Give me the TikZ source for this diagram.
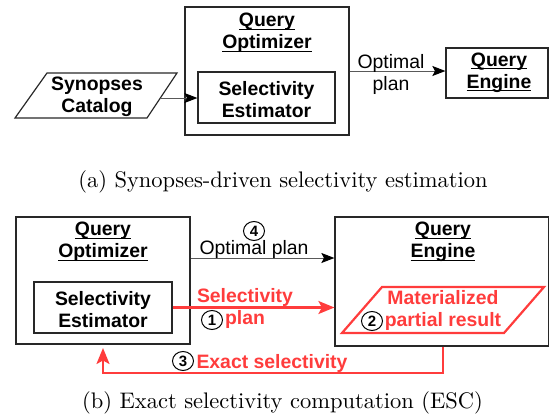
\documentclass[tikz,border=0pt]{standalone}
\usepackage{fontspec}
\newfontfamily\lsans{Liberation Sans}
\usetikzlibrary{arrows.meta,shapes.geometric}
\definecolor{myred}{RGB}{255,60,60}
\definecolor{boxgray}{RGB}{40,40,40}
\newcommand\ulin[1]{\setbox0\hbox{#1}\rlap{\rule[-3pt]{\wd0}{1.2pt}}\box0}
\begin{document}
\begin{tikzpicture}[x=1pt,y=-1pt,
  lab/.style={font=\lsans\fontsize{19.4}{22}\selectfont, align=center, inner sep=0pt},
  blab/.style={font=\lsans\bfseries\fontsize{19.4}{22}\selectfont, align=center, inner sep=0pt},
  rlab/.style={blab, text=myred},
  boxn/.style={draw=boxgray, line width=1.2pt, inner sep=0pt},
  arr/.style={draw=black!65, line width=1pt, -{Stealth[length=13pt,width=10pt,inset=2.5pt,color=black]}},
  rarr/.style={draw=myred, line width=2.2pt, -{Stealth[length=16pt,width=13pt,inset=3.5pt]}},
  rline/.style={draw=myred, line width=2.2pt},
  num/.style={ellipse, draw=black, line width=1pt, minimum width=21pt, minimum height=19pt, inner sep=0pt,
    font=\lsans\bfseries\fontsize{15}{15}\selectfont},
  captxt/.style={scale=2.25, inner sep=0pt}
]
\useasboundingbox (0,0) rectangle (549,415);

% ---------- (a) ----------
\node[boxn, minimum width=164pt, minimum height=128pt] (qo1) at (267,71) {};
\node[blab] (qo1t) at (267,33) {\ulin{Query}\\\ulin{Optimizer}};
\node[boxn, minimum width=137pt, minimum height=51pt] (se1) at (266.5,97.5) {};
\node[blab] (se1t) at (266.5,100) {Selectivity\\Estimator};

\draw[boxn] (15,118) -- (47,73) -- (177,73) -- (147,118) -- cycle;
\node[blab] (syn) at (97,97) {Synopses\\Catalog};
\coordinate (synr) at (160,98);
\draw[arr] (synr) -- (se1.west |- synr);

\node[boxn, minimum width=102pt, minimum height=50pt] (qe1) at (497,73) {};
\node[blab] (qe1t) at (499,72.5) {\ulin{Query}\\\ulin{Engine}};
\draw[arr] (qo1.east) -- (qe1.west |- qo1.east);
\node[lab] (opt1) at (391,74.5) {Optimal\\plan};

\node[captxt] (capa) at (283,182) {(a) Synopses-driven selectivity estimation};

% ---------- (b) ----------
\node[boxn, minimum width=174pt, minimum height=127pt] (qo2) at (103,280.5) {};
\node[blab] (qo2t) at (103,242) {\ulin{Query}\\\ulin{Optimizer}};
\node[boxn, minimum width=138pt, minimum height=51pt] (se2) at (103,307.5) {};
\node[blab] (se2t) at (103,310) {Selectivity\\Estimator};

\node[boxn, minimum width=213.5pt, minimum height=129pt] (qe2) at (441.75,281.5) {};
\node[blab] (qe2t) at (443,242) {\ulin{Query}\\\ulin{Engine}};

\coordinate (ya) at (0,258);
\draw[arr] (qo2.east |- ya) -- (qe2.west |- ya);
\node[lab] (opt2) at (254,249) {Optimal plan};
\node[num] (n4) at (254,231) {4};

\draw[rarr] (se2.east) -- (qe2.west |- se2.east);
\node[rlab] (selp) at (245,308) {Selectivity\\plan};
\node[num] (n1) at (212,320) {1};

\draw[rline] (342,333) -- (382,287) -- (544,287) -- (504,333) -- cycle;
\node[rlab] (mat) at (443,310.5) {Materialized\\partial result};
\node[num] (n2) at (372,321) {2};

\coordinate (r1) at (443,373);
\coordinate (r2) at (103,348);
\draw[rarr] (qe2.south -| r1) -- (r1) -- (r1 -| r2) -- (r2);
\node[rlab] (exs) at (272,363) {Exact selectivity};
\node[num] (n3) at (183,361) {3};

\node[captxt] (capb) at (282.5,403) {(b) Exact selectivity computation (ESC)};
\end{tikzpicture}
\end{document}
